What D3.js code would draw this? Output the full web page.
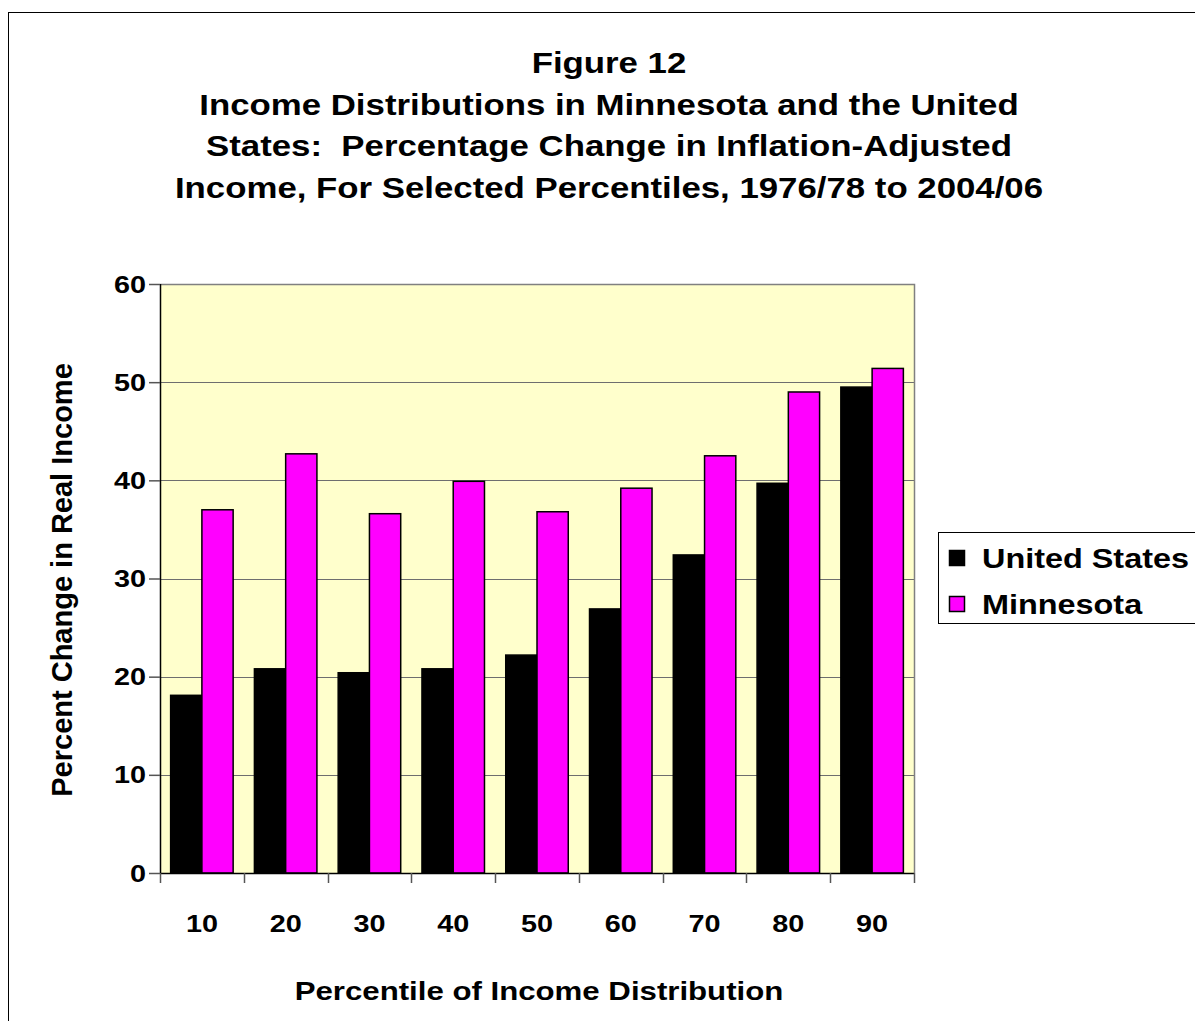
<!DOCTYPE html>
<html>
<head>
<meta charset="utf-8">
<script src="https://cdn.jsdelivr.net/npm/d3@7"></script>
<style>
  html, body { margin: 0; padding: 0; background: #fff; }
  svg { display: block; font-family: "Liberation Sans", Arial, sans-serif; }
</style>
</head>
<body>
<svg id="chart" width="1195" height="1021"></svg>
<script>
// Percentile of income distribution (categories)
const percentiles = ["10", "20", "30", "40", "50", "60", "70", "80", "90"];
// Percent change in real income, 1976/78 to 2004/06
const unitedStates = [18.1, 20.8, 20.4, 20.8, 22.2, 26.9, 32.4, 39.7, 49.5];
const minnesota    = [37.0, 42.7, 36.6, 39.9, 36.8, 39.2, 42.5, 49.0, 51.4];
const seriesNames  = ["United States", "Minnesota"];
const seriesColors = ["#000000", "#FF00FF"];
const yTicks = [0, 10, 20, 30, 40, 50, 60];
const titleLines = [
  "Figure 12",
  "Income Distributions in Minnesota and the United",
  "States:  Percentage Change in Inflation-Adjusted",
  "Income, For Selected Percentiles, 1976/78 to 2004/06"
];

const svg = d3.select("#chart");

// Bold text, slightly widened horizontally like the autoscaled chart fonts
function label(parent, txt, x, yPos, size, sx, anchor) {
  return parent.append("text")
    .attr("transform", `translate(${x},${yPos}) scale(${sx},1)`)
    .attr("text-anchor", anchor || "middle")
    .attr("font-size", size).attr("font-weight", "bold")
    .attr("fill", "#000")
    .style("white-space", "pre")
    .text(txt);
}

// Outer chart frame
svg.append("rect")
  .attr("x", 8.5).attr("y", 12.5)
  .attr("width", 1220).attr("height", 1030)
  .attr("fill", "#fff").attr("stroke", "#000").attr("stroke-width", 1);

const plot = { left: 160, right: 914, top: 284, bottom: 873 };

const x = d3.scaleBand().domain(percentiles)
  .range([plot.left, plot.right]).paddingInner(0).paddingOuter(0);
const inner = d3.scaleBand().domain(seriesNames)
  .range([0, x.bandwidth()]).paddingInner(0).paddingOuter(0.34);
const y = d3.scaleLinear().domain([0, 60]).range([plot.bottom, plot.top]);

// Plot area background
svg.append("rect")
  .attr("x", plot.left).attr("y", plot.top)
  .attr("width", plot.right - plot.left).attr("height", plot.bottom - plot.top)
  .attr("fill", "#FFFFCC");

// Horizontal gridlines
svg.append("g").selectAll("line")
  .data(yTicks.filter(t => t > 0 && t < 60))
  .join("line")
  .attr("x1", plot.left).attr("x2", plot.right)
  .attr("y1", d => Math.round(y(d)) + 0.5).attr("y2", d => Math.round(y(d)) + 0.5)
  .attr("stroke", "#6e6e6e").attr("stroke-width", 1);

// Plot border (top and right)
svg.append("path")
  .attr("d", `M${plot.left},${plot.top + 0.5}H${plot.right + 0.5}V${plot.bottom}`)
  .attr("fill", "none").attr("stroke", "#808080").attr("stroke-width", 1.5);

// Bars
const rows = percentiles.map((p, i) => ({ p, vals: [unitedStates[i], minnesota[i]] }));
const groups = svg.append("g").selectAll("g")
  .data(rows).join("g")
  .attr("transform", d => `translate(${x(d.p)},0)`);
groups.selectAll("rect")
  .data(d => d.vals.map((v, k) => ({ name: seriesNames[k], v, k })))
  .join("rect")
  .attr("x", d => inner(d.name))
  .attr("y", d => y(d.v))
  .attr("width", inner.bandwidth())
  .attr("height", d => y(0) - y(d.v))
  .attr("fill", d => seriesColors[d.k])
  .attr("stroke", "#000").attr("stroke-width", 1.5);

// Y axis
const yAxis = d3.axisLeft(y).tickValues(yTicks).tickSize(11).tickFormat("");
const gy = svg.append("g").attr("transform", `translate(${plot.left},0)`).call(yAxis);
gy.select(".domain").attr("stroke", "#000").attr("stroke-width", 1.5)
  .attr("d", `M0.5,${plot.top}V${plot.bottom}`);
gy.selectAll(".tick line").attr("stroke", "#555").attr("stroke-width", 1.5);
const yLab = svg.append("g");
yTicks.forEach(t => label(yLab, String(t), 146, y(t) + 8.5, 24, 1.2, "end"));

// X axis: ticks at category boundaries, labels centred in each band
const xb = svg.append("g");
xb.append("line")
  .attr("x1", plot.left).attr("x2", plot.right)
  .attr("y1", plot.bottom + 0.5).attr("y2", plot.bottom + 0.5)
  .attr("stroke", "#000").attr("stroke-width", 1.5);
xb.selectAll("line.tk")
  .data(d3.range(percentiles.length + 1))
  .join("line").attr("class", "tk")
  .attr("x1", i => Math.round(plot.left + i * x.bandwidth()) + 0.5)
  .attr("x2", i => Math.round(plot.left + i * x.bandwidth()) + 0.5)
  .attr("y1", plot.bottom).attr("y2", plot.bottom + 10)
  .attr("stroke", "#555").attr("stroke-width", 1.5);
const xLab = svg.append("g");
percentiles.forEach(p => label(xLab, p, x(p) + x.bandwidth() / 2, 932, 24, 1.2));

// Axis titles
label(svg, "Percentile of Income Distribution", 539, 1000, 26, 1.2);
svg.append("text")
  .attr("transform", "translate(72,580) rotate(-90)")
  .attr("text-anchor", "middle")
  .attr("font-size", 29).attr("font-weight", "bold")
  .text("Percent Change in Real Income");

// Title
const tg = svg.append("g");
titleLines.forEach((t, i) => label(tg, t, 609, 73 + i * 41.5, 29, 1.2));

// Legend
const lg = svg.append("g");
lg.append("rect")
  .attr("x", 938.5).attr("y", 532.5)
  .attr("width", 280).attr("height", 91)
  .attr("fill", "#fff").attr("stroke", "#000").attr("stroke-width", 1);
const items = lg.selectAll("g.item")
  .data(seriesNames).join("g").attr("class", "item")
  .attr("transform", (d, i) => `translate(0,${558 + i * 46})`);
items.append("rect")
  .attr("x", 949.5).attr("y", -7.5)
  .attr("width", 15).attr("height", 15)
  .attr("fill", (d, i) => seriesColors[i])
  .attr("stroke", "#000").attr("stroke-width", 1.5);
items.each(function (d) {
  label(d3.select(this), d, 982, 10, 27, 1.2, "start");
});
</script>
</body>
</html>
